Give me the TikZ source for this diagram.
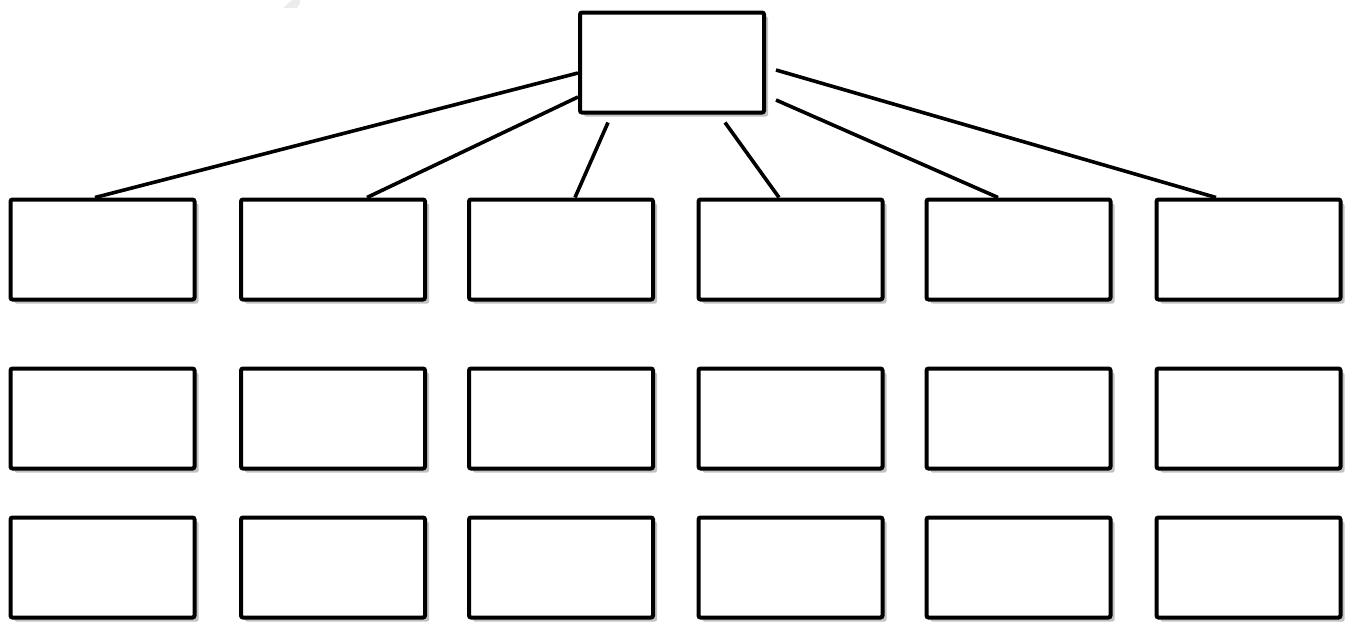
\documentclass[tikz,border=0pt]{standalone}
\usetikzlibrary{shadows,calc}
\begin{document}
\begin{tikzpicture}[x=0.75pt,y=-0.75pt,
  box/.style={draw=black, fill=white, line width=3pt, rounded corners=1.5pt,
    minimum width=138pt, minimum height=75pt, inner sep=0pt,
    drop shadow={shadow xshift=3pt, shadow yshift=-3pt, fill=gray!80, opacity=0.6}},
  link/.style={draw=black, line width=2.7pt}]
\useasboundingbox (0,0) rectangle (1356,621);
\fill[gray!15] (283,8) -- (297,8) -- (300,3) -- (300,0) -- (292,0) -- cycle;
\node[box] (top) at (672,62.5) {};
\foreach \c/\x in {1/102.5,2/333,3/561,4/790.5,5/1018.5,6/1248.5}{
  \foreach \r/\y in {1/249.5,2/418.5,3/567.5}{
    \node[box] (b\r\c) at (\x,\y) {};
  }
}
\draw[link] ($(top.west)+(0,10.5)$) -- ($(b11.north)+(-7.5,0)$);
\draw[link] ($(top.west)+(0,34.5)$) -- ($(b12.north)+(34,0)$);
\draw[link] ($(top.south)+(-64,8)$) -- ($(b13.north)+(14,0)$);
\draw[link] ($(top.south)+(53,8)$) -- ($(b14.north)+(-11.5,0)$);
\draw[link] ($(top.east)+(10,37.5)$) -- ($(b15.north)+(-20.5,0)$);
\draw[link] ($(top.east)+(10,7.5)$) -- ($(b16.north)+(-32.5,0)$);
\end{tikzpicture}
\end{document}
